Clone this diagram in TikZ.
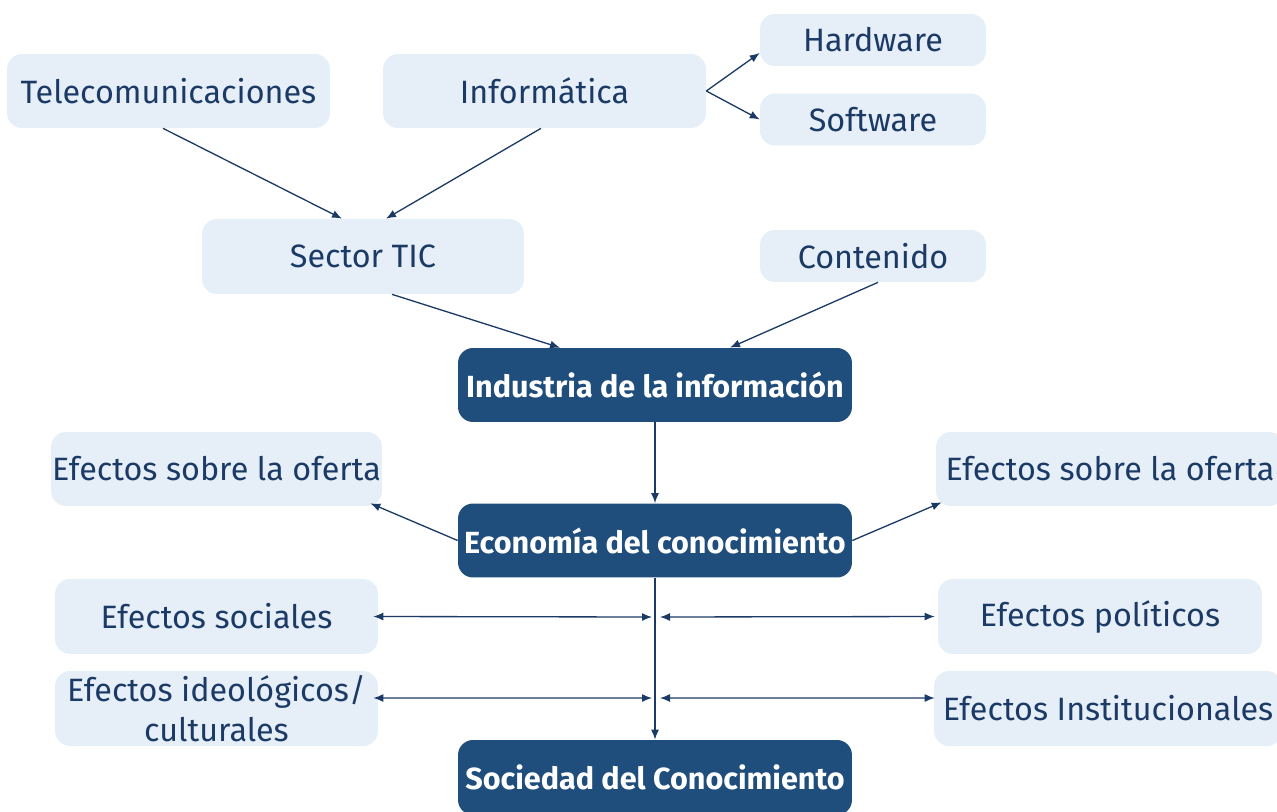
\documentclass[tikz,border=0pt]{standalone}
\usepackage{fontspec}
\setmainfont{Fira Sans}
\usetikzlibrary{arrows.meta}
\definecolor{lightblue}{HTML}{E6EFF7}
\definecolor{darkblue}{HTML}{1F4E7D}
\definecolor{navy}{HTML}{1B3A66}

\begin{document}
\begin{tikzpicture}[x=0.02cm,y=-0.02cm]
\tikzstyle{every node}+=[inner sep=0pt]
\tikzstyle{lbox}=[fill=lightblue, rounded corners=0.3cm, text=navy, align=center, font=\fontsize{18.4}{23}\selectfont]
\tikzstyle{dbox}=[fill=darkblue, rounded corners=0.3cm, text=white, font=\bfseries\fontsize{17.4}{20}\selectfont, minimum width=7.88cm, minimum height=1.48cm]
\tikzstyle{conn}=[navy, line width=0.75pt, -{Latex[length=2mm,width=1.6mm]}]
\tikzstyle{both}=[navy, line width=0.75pt, {Latex[length=2mm,width=1.6mm]}-{Latex[length=2mm,width=1.6mm]}]
\useasboundingbox (0,0) rectangle (1277,811);
\node [lbox, minimum width=6.46cm, minimum height=1.48cm] (tele) at (168.5,91) {Telecomunicaciones};
\node [lbox, minimum width=6.46cm, minimum height=1.48cm] (info) at (544.5,91) {Informática};
\node [lbox, minimum width=4.52cm, minimum height=1.04cm] (hard) at (873,40) {Hardware};
\node [lbox, minimum width=4.52cm, minimum height=1.04cm] (soft) at (873,119.5) {Software};
\node [lbox, minimum width=6.44cm, minimum height=1.5cm] (tic) at (363,256.5) {Sector TIC};
\node [lbox, minimum width=4.52cm, minimum height=1.04cm] (cont) at (873,256) {Contenido};
\node [dbox] (ind) at (655,385) {Industria de la información};
\node [lbox, minimum width=6.62cm, minimum height=1.48cm] (ofl) at (216.5,469) {Efectos sobre la oferta};
\node [lbox, minimum width=6.96cm, minimum height=1.48cm] (ofr) at (1110,469) {Efectos sobre la oferta};
\node [dbox] (eco) at (655,540.5) {Economía del conocimiento};
\node [lbox, minimum width=6.46cm, minimum height=1.5cm] (soc) at (216.5,616.5) {Efectos sociales};
\node [lbox, minimum width=6.48cm, minimum height=1.5cm] (pol) at (1100,616.5) {Efectos políticos};
\node [lbox, minimum width=6.46cm, minimum height=1.5cm] (ideo) at (216.5,708.5) {Efectos ideológicos/\\culturales};
\node [lbox, minimum width=6.96cm, minimum height=1.5cm] (inst) at (1108,708.5) {Efectos Institucionales};
\node [dbox, minimum height=1.5cm] (socc) at (655,777.5) {Sociedad del Conocimiento};
\coordinate (l1) at (652,617);
\coordinate (r1) at (660,617);
\coordinate (l2) at (652,698);
\coordinate (r2) at (660,698);
\draw [conn] ([xshift=-0.11cm]tele.south) -- ([xshift=-0.42cm]tic.north);
\draw [conn] ([xshift=-0.07cm]info.south) -- ([xshift=0.46cm]tic.north);
\draw [conn] (info.east) -- ([yshift=-0.26cm]hard.west);
\draw [conn] (info.east) -- (soft.west);
\draw [conn] ([xshift=0.58cm]tic.south) -- ([xshift=-1.9cm]ind.north);
\draw [conn] ([xshift=0.1cm]cont.south) -- ([xshift=1.5cm]ind.north);
\draw [conn] (ind.south) -- (eco.north);
\draw [conn] (eco.west) -- ([xshift=-0.24cm,yshift=0.06cm]ofl.south east);
\draw [conn] (eco.east) -- ([xshift=0.12cm,yshift=0.08cm]ofr.south west);
\draw [conn] (eco.south) -- (socc.north);
\draw [both] ([xshift=-0.1cm]soc.east) -- (l1);
\draw [both] (r1) -- ([xshift=-0.06cm]pol.west);
\draw [both] ([xshift=-0.1cm,yshift=0.21cm]ideo.east) -- (l2);
\draw [both] (r2) -- ([xshift=0.02cm,yshift=0.21cm]inst.west);
\end{tikzpicture}
\end{document}
